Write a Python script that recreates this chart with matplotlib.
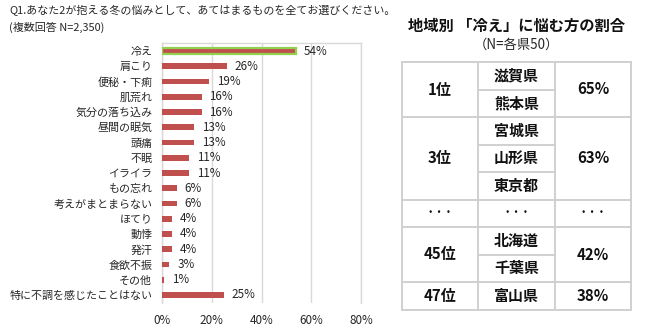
import matplotlib
matplotlib.use("Agg")
import matplotlib.pyplot as plt
from matplotlib.ticker import FuncFormatter

plt.rcParams['font.family'] = ['Noto Sans CJK JP', 'DejaVu Sans']

# ---- survey data ----
categories = ["冷え", "肩こり", "便秘・下痢", "肌荒れ", "気分の落ち込み", "昼間の眠気",
              "頭痛", "不眠", "イライラ", "もの忘れ", "考えがまとまらない", "ほてり",
              "動悸", "発汗", "食欲不振", "その他", "特に不調を感じたことはない"]
values = [54, 26, 19, 16, 16, 13, 13, 11, 11, 6, 6, 4, 4, 4, 3, 1, 25]
xticks = [0, 20, 40, 60, 80]

# ---- regional ranking table ----
ranks = ["1位", "3位", "・・・", "45位", "47位"]
prefectures = [["滋賀県", "熊本県"], ["宮城県", "山形県", "東京都"], ["・・・"],
               ["北海道", "千葉県"], ["富山県"]]
rates = ["65%", "63%", "・・・", "42%", "38%"]

W, H = 650, 333
fig = plt.figure(figsize=(W / 100, H / 100), dpi=100)
fig.patch.set_facecolor("white")

def fx(px):
    return px / W

def fy(py):
    return 1 - py / H

text_c = "#262626"
grid_c = "#d9d9d9"
red = "#C0504D"
green = "#92D050"

# titles on the left
fig.text(fx(9), fy(11), "Q1.あなた2が抱える冬の悩みとして、あてはまるものを全てお選びください。",
         fontsize=7.9, color=text_c, va="center", ha="left")
fig.text(fx(9), fy(27), "(複数回答 N=2,350)", fontsize=7.9, color=text_c,
         va="center", ha="left")

# bar chart
ax_l, ax_r, ax_t, ax_b = 162, 361, 43, 303
ax = fig.add_axes([fx(ax_l), fy(ax_b), (ax_r - ax_l) / W, (ax_b - ax_t) / H])
ypos = list(range(len(categories)))
colors = [red] * len(values)
bars = ax.barh(ypos, values, height=0.37, color=colors, zorder=3)
bars[0].set_edgecolor(green)
bars[0].set_linewidth(1.6)
bars[0].set_height(0.44)
bars[0].set_y(-0.22)

for y, v in zip(ypos, values):
    ax.text(v + 3.1, y, f"{v}%", va="center", ha="left", fontsize=8.4, color=text_c)

ax.set_xlim(0, 80)
ax.set_ylim(len(categories) - 1 + 0.525, -0.525)
ax.set_xticks(xticks)
ax.xaxis.set_major_formatter(FuncFormatter(lambda v, p: f"{v:.0f}%"))
ax.set_yticks(ypos)
ax.set_yticklabels(categories)
ax.tick_params(axis="both", length=0, labelsize=8.4, colors=text_c)
ax.tick_params(axis="y", labelsize=7.9, pad=7)
ax.tick_params(axis="x", pad=8)
ax.grid(axis="x", color=grid_c, linewidth=1.0, zorder=0)
for side in ["top", "left", "right"]:
    ax.spines[side].set_color(grid_c)
    ax.spines[side].set_linewidth(1.0)
ax.spines["bottom"].set_visible(False)

# right-hand title
fig.text(fx(516), fy(26), "地域別 「冷え」に悩む方の割合", fontsize=11, fontweight="bold",
         color="#111111", ha="center", va="center")
fig.text(fx(516), fy(45), "（N=各県50）", fontsize=9.6, color=text_c,
         ha="center", va="center")

# ranking table drawn on a pixel-space overlay
tab = fig.add_axes([0, 0, 1, 1], zorder=5)
tab.set_xlim(0, W)
tab.set_ylim(H, 0)
tab.axis("off")
tab.patch.set_alpha(0)

cols = [402, 478, 555, 631]
top = 62
row_h = 27.5
line_c = "#d0d0d0"
lw = 1.4
n_sub = sum(len(p) for p in prefectures)
bottom = top + n_sub * row_h
fs = 10.8


def cell(x, y, s):
    size = 6.8 if s.startswith("・") else fs
    tab.text(x, y, s, ha="center", va="center", fontsize=size,
             fontweight="bold", color="#111111")


# outer vertical lines
for x in cols:
    tab.plot([x, x], [top, bottom], color=line_c, lw=lw, solid_capstyle="projecting")
tab.plot([cols[0], cols[-1]], [top, top], color=line_c, lw=lw, solid_capstyle="projecting")

row = 0
for rank, prefs, rate in zip(ranks, prefectures, rates):
    y0 = top + row * row_h
    y1 = y0 + len(prefs) * row_h
    tab.plot([cols[0], cols[-1]], [y1, y1], color=line_c, lw=lw, solid_capstyle="projecting")
    ymid = (y0 + y1) / 2
    cell((cols[0] + cols[1]) / 2, ymid, rank)
    cell((cols[2] + cols[3]) / 2, ymid, rate)
    for i, p in enumerate(prefs):
        yc = y0 + (i + 0.5) * row_h
        cell((cols[1] + cols[2]) / 2, yc, p)
        if i > 0:
            yl = y0 + i * row_h
            tab.plot([cols[1], cols[2]], [yl, yl], color=line_c, lw=lw)
    row += len(prefs)

fig.savefig("out.png", dpi=100, facecolor="white")
